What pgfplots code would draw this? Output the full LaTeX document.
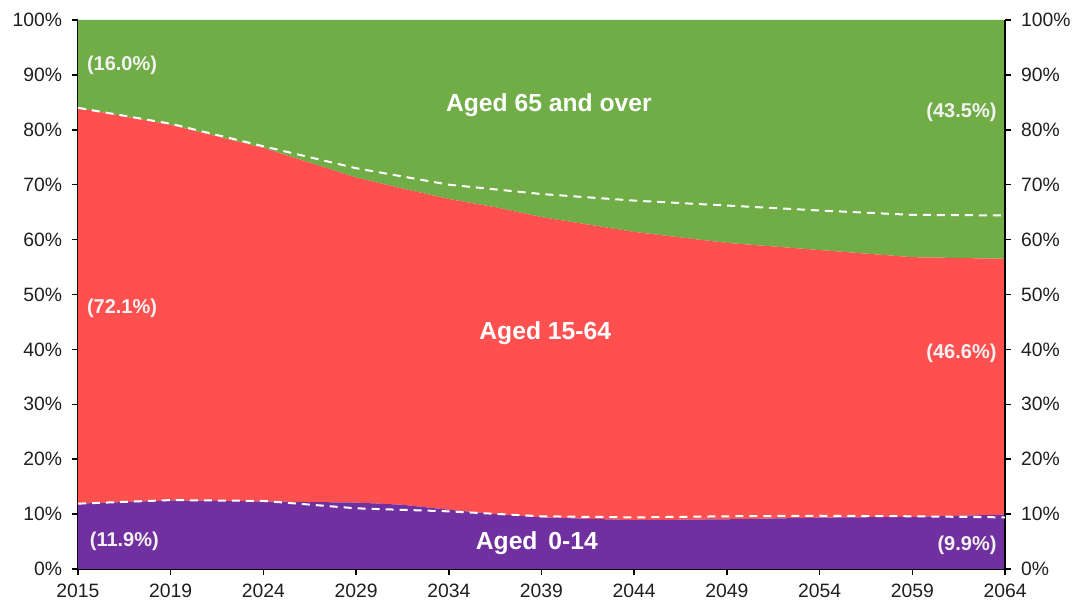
\documentclass[border=0pt]{standalone}
\usepackage{fontspec}
\setmainfont{Liberation Sans}
\usepackage{pgfplots}
\pgfplotsset{compat=1.18}
\definecolor{cPurple}{HTML}{7030A0}
\definecolor{cRed}{HTML}{FF5050}
\definecolor{cGreen}{HTML}{70AD47}
\tikzset{big/.style={font=\bfseries\fontsize{18.5}{21}\selectfont, text=white},
  pct/.style={font=\bfseries\fontsize{15}{17}\selectfont, text=white!95!black}}
\pgfplotsset{common/.style={
  scale only axis, width=695.25pt, height=411.75pt,
  xmin=0, xmax=10, ymin=0, ymax=100,
  ytick={0,10,...,100},
  yticklabel={\pgfmathprintnumber{\tick}\%},
  tick align=outside, major tick length=4.5pt,
  tick style={black, line width=1.1pt},
  axis line style={black, line width=1.3pt},
  ticklabel style={font=\fontsize{14.5}{17}\selectfont, text=black!88},
  /pgf/number format/assume math mode=true,
}}
\begin{document}
\begin{tikzpicture}
\begin{axis}[common,
  stack plots=y,
  axis x line*=bottom, axis y line*=left,
  xtick={0,...,10},
  xticklabels={2015,2019,2024,2029,2034,2039,2044,2049,2054,2059,2064},
  xticklabel style={yshift=-3.5pt},
  yticklabel style={xshift=-4pt},
]
\addplot[fill=cPurple, draw=none] coordinates {
(0,11.9) (1,12.5) (2,12.3) (3,12.1) (3.5,11.7) (4,10.8) (4.5,10.0) (5,9.4) (6,8.9) (7,9.05) (8,9.35) (9,9.5) (10,9.9)} \closedcycle;
\addplot[fill=cRed, draw=none] coordinates {
(0,72.1) (1,68.4) (2,64.4) (3,59.2) (3.5,57.6) (4,56.6) (4.5,55.9) (5,54.7) (6,52.5) (7,50.35) (8,48.75) (9,47.3) (10,46.6)} \closedcycle;
\addplot[fill=cGreen, draw=none] coordinates {
(0,16.0) (1,19.1) (2,23.3) (3,28.7) (3.5,30.7) (4,32.6) (4.5,34.1) (5,35.9) (6,38.6) (7,40.6) (8,41.9) (9,43.2) (10,43.5)} \closedcycle;
\end{axis}
\begin{axis}[common,
  axis y line*=right, axis x line=none,
  yticklabel style={xshift=4pt},
]
\addplot[white, line width=1.5pt, dash pattern=on 6pt off 4.5pt] coordinates {
(0,11.9) (1,12.55) (2,12.4) (3,11.05) (4,10.5) (5,9.6) (6,9.4) (7,9.6) (8,9.7) (9,9.6) (10,9.4)};
\addplot[white, line width=1.5pt, dash pattern=on 6pt off 4.5pt] coordinates {
(0,84.0) (1,81.1) (2,77.0) (3,73.0) (4,70.0) (5,68.3) (6,67.1) (7,66.2) (8,65.3) (9,64.5) (10,64.4)};
\node[big] at (axis cs:5.08,84.5) {Aged 65 and over};
\node[big] at (axis cs:5.04,43.0) {Aged 15-64};
\node[big] at (axis cs:4.95,4.7) {Aged\, 0-14};
\node[pct] at (axis cs:0.475,91.8) {(16.0\%)};
\node[pct] at (axis cs:0.475,47.5) {(72.1\%)};
\node[pct] at (axis cs:0.50,5.1) {(11.9\%)};
\node[pct] at (axis cs:9.53,83.1) {(43.5\%)};
\node[pct] at (axis cs:9.53,39.3) {(46.6\%)};
\node[pct] at (axis cs:9.59,4.4) {(9.9\%)};
\end{axis}
\pgfresetboundingbox
\path (-58.5pt,-24.75pt) rectangle (750pt,426.75pt);
\end{tikzpicture}
\end{document}
